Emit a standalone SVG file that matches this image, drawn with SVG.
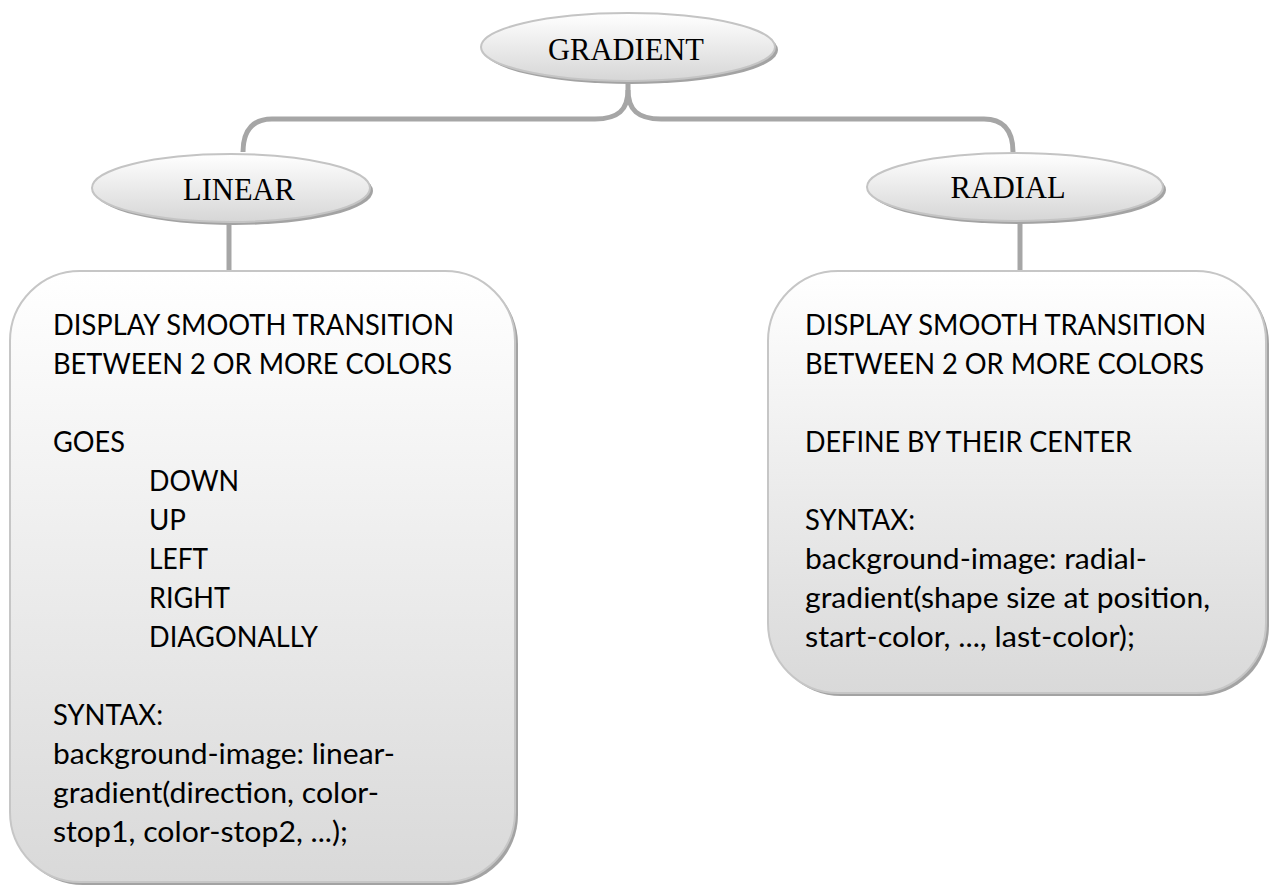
<svg xmlns="http://www.w3.org/2000/svg" width="1271" height="886" viewBox="0 0 1271 886">
<defs>
<linearGradient id="gEll" x1="0" y1="0" x2="0" y2="1">
<stop offset="0" stop-color="#ffffff"/>
<stop offset="1" stop-color="#d6d6d6"/>
</linearGradient>
<linearGradient id="gBox" x1="0" y1="0" x2="0" y2="1">
<stop offset="0" stop-color="#ffffff"/>
<stop offset="1" stop-color="#d9d9d9"/>
</linearGradient>
</defs>
<style>
.sh{fill:#a3a3a3}
.ell{fill:url(#gEll);stroke:#c4c4c4;stroke-width:2}
.box{fill:url(#gBox);stroke:#c6c6c6;stroke-width:2}
.conn{fill:none;stroke:#a6a6a6;stroke-width:5}
.t1{font-family:"Liberation Serif","Times New Roman",serif;font-size:30.5px;fill:#000;text-anchor:middle}
.t2{font-family:Lato,"Open Sans",sans-serif;font-size:29px;fill:#000}
</style>
<rect width="1271" height="886" fill="#fff"/>
<g id="connectors">
<path class="conn" d="M628,80 V90 C628,110 618,119 595,119 H272 C255,119 243,128 243,152"/>
<path class="conn" d="M628,90 C628,110 638,119 661,119 H984 C1001,119 1013,128 1013,152"/>
<path class="conn" d="M229,222 V272"/>
<path class="conn" d="M1020,221 V272"/>
</g>
<g id="node-gradient">
<ellipse class="sh" cx="631" cy="50" rx="147" ry="34"/>
<ellipse class="ell" cx="628" cy="47" rx="147" ry="34"/>
<text class="t1" x="626" y="60">GRADIENT</text>
</g>
<g id="node-linear">
<ellipse class="sh" cx="234" cy="191" rx="139" ry="34"/>
<ellipse class="ell" cx="231" cy="188" rx="139" ry="34"/>
<text class="t1" x="239" y="200">LINEAR</text>
</g>
<g id="node-radial">
<ellipse class="sh" cx="1018" cy="190" rx="148" ry="34"/>
<ellipse class="ell" cx="1015" cy="187" rx="148" ry="34"/>
<text class="t1" x="1008" y="198">RADIAL</text>
</g>
<g id="node-linear-box">
<rect class="sh" x="13" y="274" width="505" height="611" rx="70"/>
<rect class="box" x="10" y="271" width="505" height="611" rx="70"/>
<text class="t2" x="53" y="335" textLength="401" lengthAdjust="spacingAndGlyphs">DISPLAY SMOOTH TRANSITION</text>
<text class="t2" x="53" y="374" textLength="399" lengthAdjust="spacingAndGlyphs">BETWEEN 2 OR MORE COLORS</text>
<text class="t2" x="53" y="452" textLength="72" lengthAdjust="spacingAndGlyphs">GOES</text>
<text class="t2" x="149" y="491" textLength="90" lengthAdjust="spacingAndGlyphs">DOWN</text>
<text class="t2" x="149" y="530" textLength="37" lengthAdjust="spacingAndGlyphs">UP</text>
<text class="t2" x="149" y="569" textLength="59" lengthAdjust="spacingAndGlyphs">LEFT</text>
<text class="t2" x="149" y="608" textLength="81" lengthAdjust="spacingAndGlyphs">RIGHT</text>
<text class="t2" x="149" y="647" textLength="169" lengthAdjust="spacingAndGlyphs">DIAGONALLY</text>
<text class="t2" x="53" y="725" textLength="110" lengthAdjust="spacingAndGlyphs">SYNTAX:</text>
<text class="t2" x="53" y="764" textLength="342" lengthAdjust="spacingAndGlyphs">background-image: linear-</text>
<text class="t2" x="53" y="803" textLength="326" lengthAdjust="spacingAndGlyphs">gradient(direction, color-</text>
<text class="t2" x="53" y="842" textLength="295" lengthAdjust="spacingAndGlyphs">stop1, color-stop2, ...);</text>
</g>
<g id="node-radial-box">
<rect class="sh" x="771" y="274" width="498" height="422" rx="70"/>
<rect class="box" x="768" y="271" width="498" height="422" rx="70"/>
<text class="t2" x="805" y="335" textLength="401" lengthAdjust="spacingAndGlyphs">DISPLAY SMOOTH TRANSITION</text>
<text class="t2" x="805" y="374" textLength="399" lengthAdjust="spacingAndGlyphs">BETWEEN 2 OR MORE COLORS</text>
<text class="t2" x="805" y="452" textLength="327" lengthAdjust="spacingAndGlyphs">DEFINE BY THEIR CENTER</text>
<text class="t2" x="805" y="530" textLength="110" lengthAdjust="spacingAndGlyphs">SYNTAX:</text>
<text class="t2" x="805" y="569" textLength="342" lengthAdjust="spacingAndGlyphs">background-image: radial-</text>
<text class="t2" x="805" y="608" textLength="405" lengthAdjust="spacingAndGlyphs">gradient(shape size at position,</text>
<text class="t2" x="805" y="647" textLength="330" lengthAdjust="spacingAndGlyphs">start-color, ..., last-color);</text>
</g>
</svg>
